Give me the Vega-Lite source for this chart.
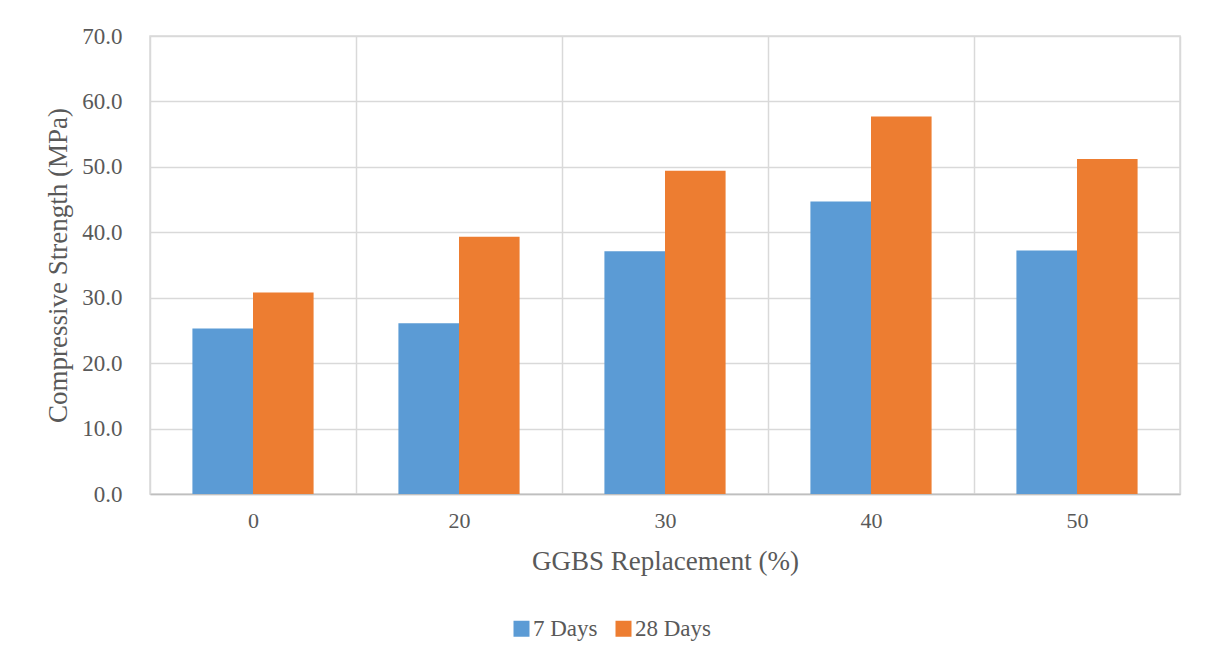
{
  "$schema": "https://vega.github.io/schema/vega-lite/v6.json",
  "width": 1030,
  "height": 458,
  "autosize": {"type": "none"},
  "padding": {"left": 150, "top": 36, "right": 25, "bottom": 167},
  "background": "white",
  "config": {
    "font": "Liberation Serif",
    "view": {"stroke": "#d9d9d9", "strokeWidth": 1.5},
    "axis": {"labelFont": "Liberation Serif", "titleFont": "Liberation Serif", "labelColor": "#595959", "titleColor": "#595959", "titleFontWeight": "normal", "gridColor": "#d9d9d9", "gridWidth": 1.5}
  },
  "data": {
    "values": [
      {"ggbs": "0", "age": "7 Days", "strength": 25.3},
      {"ggbs": "0", "age": "28 Days", "strength": 30.8},
      {"ggbs": "20", "age": "7 Days", "strength": 26.1},
      {"ggbs": "20", "age": "28 Days", "strength": 39.3},
      {"ggbs": "30", "age": "7 Days", "strength": 37.1},
      {"ggbs": "30", "age": "28 Days", "strength": 49.4},
      {"ggbs": "40", "age": "7 Days", "strength": 44.7},
      {"ggbs": "40", "age": "28 Days", "strength": 57.7},
      {"ggbs": "50", "age": "7 Days", "strength": 37.2},
      {"ggbs": "50", "age": "28 Days", "strength": 51.2}
    ]
  },
  "mark": {"type": "bar"},
  "encoding": {
    "x": {
      "field": "ggbs", "type": "nominal", "sort": ["0", "20", "30", "40", "50"],
      "scale": {"paddingInner": 0, "paddingOuter": 0},
      "axis": {"title": "GGBS Replacement (%)", "labelAngle": 0, "labelFontSize": 22, "titleFontSize": 27, "labelPadding": 16, "titlePadding": 17, "ticks": false, "grid": true, "tickBand": "extent", "domainColor": "#bfbfbf", "domainWidth": 1.5}
    },
    "xOffset": {
      "field": "age", "type": "nominal", "sort": ["7 Days", "28 Days"],
      "scale": {"paddingInner": 0, "paddingOuter": 0.7}
    },
    "y": {
      "field": "strength", "type": "quantitative",
      "scale": {"domain": [0, 70]},
      "axis": {"title": "Compressive Strength (MPa)", "values": [0, 10, 20, 30, 40, 50, 60, 70], "format": ".1f", "labelFontSize": 23, "titleFontSize": 27, "ticks": false, "labelPadding": 28, "titlePadding": 9, "domain": false}
    },
    "color": {
      "field": "age", "type": "nominal", "sort": ["7 Days", "28 Days"],
      "scale": {"domain": ["7 Days", "28 Days"], "range": ["#5b9bd5", "#ed7d31"]},
      "legend": {"title": null, "orient": "none", "direction": "horizontal", "legendX": 360, "legendY": 581, "symbolType": "square", "symbolSize": 256, "symbolStrokeWidth": 0, "labelFontSize": 23, "labelColor": "#595959", "labelFont": "Liberation Serif", "columnPadding": 14, "labelOffset": 0}
    }
  }
}
